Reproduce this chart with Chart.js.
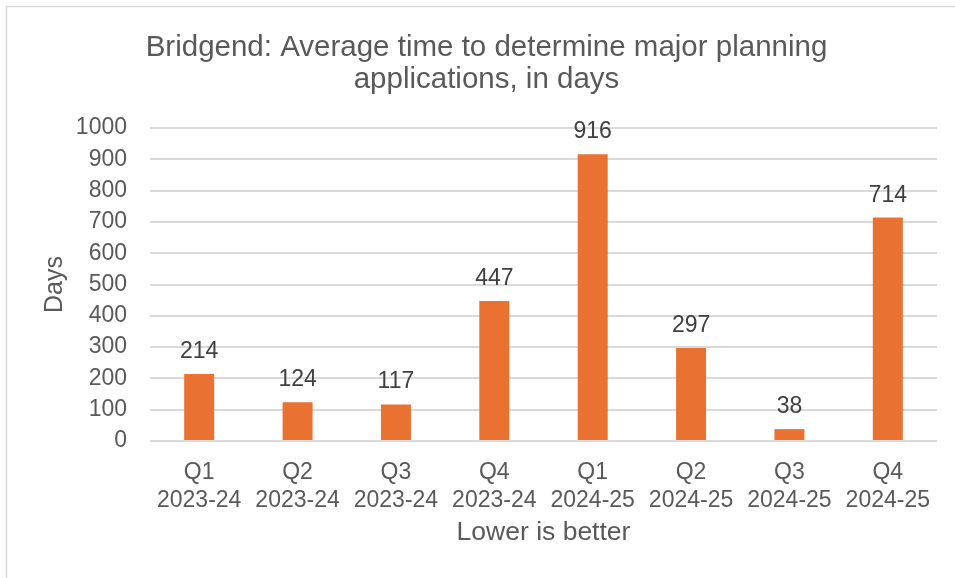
<!DOCTYPE html>
<html>
<head>
<meta charset="utf-8">
<script src="https://cdn.jsdelivr.net/npm/chart.js@4/dist/chart.umd.min.js"></script>
<style>
  html, body { margin: 0; padding: 0; background: #ffffff; }
  #wrap { position: relative; width: 955px; height: 578px; }
</style>
</head>
<body>
<div id="wrap"><canvas id="c" width="955" height="578"></canvas></div>
<script>
const quarters = ["Q1", "Q2", "Q3", "Q4", "Q1", "Q2", "Q3", "Q4"];
const years = ["2023-24", "2023-24", "2023-24", "2023-24", "2024-25", "2024-25", "2024-25", "2024-25"];
const days = [214, 124, 117, 447, 916, 297, 38, 714];
const titleLines = ["Bridgend: Average time to determine major planning", "applications, in days"];
const yAxisTitle = "Days";
const xAxisTitle = "Lower is better";

const labels = quarters.map((q, i) => [q, years[i]]);
const FONT = "'Liberation Sans', Arial, sans-serif";
const TEXT = "#595959";
const GRID = "#d9d9d9";
const BAR = "#E97132";

const borderPlugin = {
  id: 'frame',
  beforeDraw(chart) {
    const ctx = chart.ctx;
    ctx.save();
    ctx.fillStyle = '#ffffff';
    ctx.fillRect(0, 0, chart.width, chart.height);
    ctx.strokeStyle = GRID;
    ctx.lineWidth = 1.5;
    ctx.strokeRect(6.5, 6.5, 2000, 2000);
    ctx.restore();
  }
};

const valueLabels = {
  id: 'valueLabels',
  afterDatasetsDraw(chart) {
    const ctx = chart.ctx;
    const meta = chart.getDatasetMeta(0);
    ctx.save();
    ctx.font = "23px " + FONT;
    ctx.fillStyle = "#404040";
    ctx.textAlign = 'center';
    ctx.textBaseline = 'alphabetic';
    meta.data.forEach((el, i) => {
      ctx.fillText(String(chart.data.datasets[0].data[i]), el.x, el.y - 16);
    });
    ctx.restore();
  }
};

new Chart(document.getElementById('c'), {
  type: 'bar',
  data: {
    labels: labels,
    datasets: [{
      data: days,
      backgroundColor: BAR,
      borderWidth: 0,
      barPercentage: 0.61,
      categoryPercentage: 0.5
    }]
  },
  options: {
    responsive: false,
    animation: false,
    devicePixelRatio: 1,
    layout: { padding: { left: 36, right: 18, top: 6, bottom: 25 } },
    plugins: {
      legend: { display: false },
      tooltip: { enabled: false },
      title: {
        display: true,
        text: titleLines,
        color: TEXT,
        font: { family: FONT, size: 29.5, weight: 'normal', lineHeight: 1.085 },
        padding: { top: 26, bottom: 32 }
      }
    },
    scales: {
      x: {
        grid: { display: false, drawTicks: false },
        border: { display: false },
        ticks: {
          color: TEXT,
          font: { family: FONT, size: 23, lineHeight: 1.24 },
          padding: 17,
          maxRotation: 0,
          autoSkip: false
        },
        title: {
          display: true,
          text: xAxisTitle,
          color: TEXT,
          font: { family: FONT, size: 26.5 },
          padding: { top: 4, bottom: 4 }
        },
        afterFit(scale) { scale.height = 112; }
      },
      y: {
        min: 0,
        max: 1000,
        grid: { color: GRID, lineWidth: 2, drawTicks: false },
        border: { display: false },
        ticks: {
          stepSize: 100,
          color: TEXT,
          font: { family: FONT, size: 23 },
          padding: 23,
          callback: (v) => String(v)
        },
        title: {
          display: true,
          text: yAxisTitle,
          color: TEXT,
          font: { family: FONT, size: 25 },
          padding: { top: 4, bottom: 4 }
        },
        afterFit(scale) { scale.width = 114; }
      }
    }
  },
  plugins: [borderPlugin, valueLabels]
});
</script>
</body>
</html>
